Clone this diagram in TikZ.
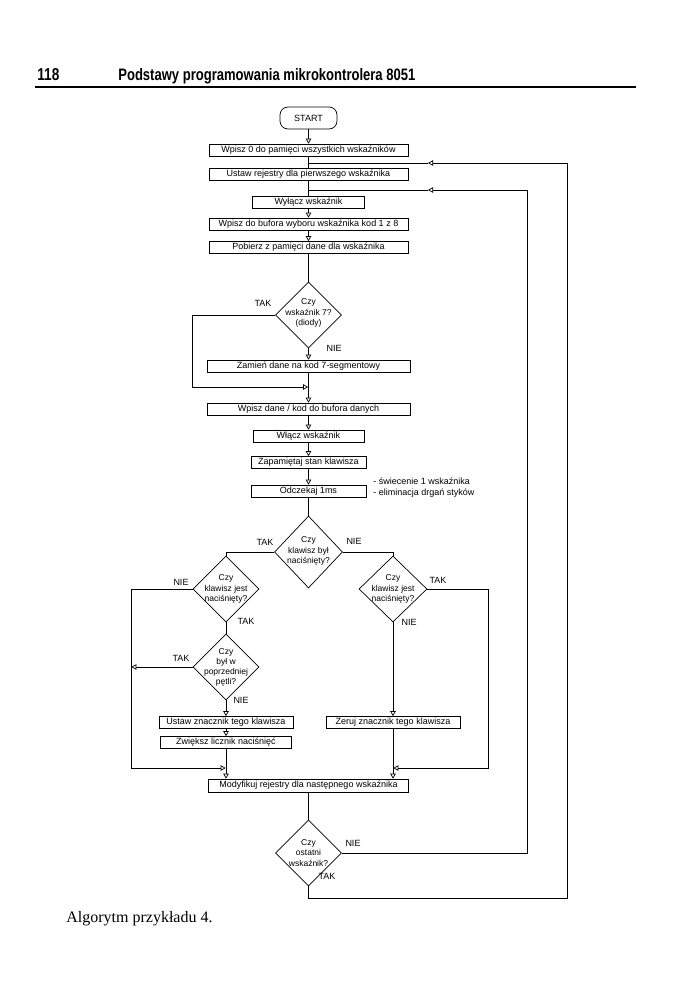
\documentclass[tikz,border=0pt]{standalone}
\usepackage{graphicx}
\usepackage{fontspec}
\setmainfont{Liberation Serif}
\newfontfamily\arial{Liberation Sans}
\usetikzlibrary{arrows.meta,shapes.geometric}
\begin{document}
\begin{tikzpicture}[x=1pt,y=-1pt,
  line width=0.7pt,
  every node/.style={font=\arial\fontsize{9}{10.5}\selectfont},
  box/.style={draw,rectangle,inner sep=0pt,minimum height=12pt},
  term/.style={draw,rounded corners=8pt,minimum width=57pt,minimum height=22pt,inner sep=0pt},
  dia/.style={draw,diamond,inner sep=0pt,minimum width=66pt,minimum height=66pt},
  dtext/.style={align=center,inner sep=0pt,font=\arial\fontsize{8.5}{10.5}\selectfont},
  lbl/.style={inner sep=0pt},
  ar/.style={-{Triangle[open,length=5pt,width=5.5pt]}},
]
\useasboundingbox (0,0) rectangle (677,991);
% header
\node[anchor=base west,inner sep=0pt] (pg) at (37,80) {\resizebox{22pt}{12pt}{\arial\bfseries 118}};
\node[anchor=base west,inner sep=0pt] (ttl) at (118,80) {\resizebox{297pt}{12pt}{\arial\bfseries Podstawy programowania mikrokontrolera 8051}};
\draw[line width=2pt] (35,86.5) -- (636,86.5);
% nodes
\node[term] (start) at (308.5,118) {START};
\node[box,minimum width=199pt] (b1) at (308.5,150) {Wpisz 0 do pamięci wszystkich wskaźników};
\node[box,minimum width=199pt] (b2) at (308.5,174) {Ustaw rejestry dla pierwszego wskaźnika};
\node[box,minimum width=112pt] (b3) at (308.5,202.5) {Wyłącz wskaźnik};
\node[box,minimum width=199pt] (b4) at (308.5,224) {Wpisz do bufora wyboru wskaźnika kod 1 z 8};
\node[box,minimum width=199pt] (b5) at (308.5,247.5) {Pobierz z pamięci dane dla wskaźnika};
\node[dia,label={[dtext,yshift=2pt]center:Czy\\wskaźnik 7?\\(diody)}] (d1) at (308.5,315) {};
\node[box,minimum width=203pt] (b6) at (308.5,366) {Zamień dane na kod 7-segmentowy};
\node[box,minimum width=203pt] (b7) at (308.5,409) {Wpisz dane / kod do bufora danych};
\node[box,minimum width=111pt] (b8) at (308.5,436) {Włącz wskaźnik};
\node[box,minimum width=115pt] (b9) at (308.5,462.5) {Zapamiętaj stan klawisza};
\node[box,minimum width=115pt] (b10) at (308.5,491) {Odczekaj 1ms};
\node[align=left,anchor=west,inner sep=0pt] (note) at (373,487.5) {- świecenie 1 wskaźnika\\- eliminacja drgań styków};
\node[dia,minimum width=68pt,minimum height=72pt,label={[dtext,yshift=1pt]center:Czy\\klawisz był\\naciśnięty?}] (d2) at (308.5,552) {};
\node[dia,label={[dtext]center:Czy\\klawisz jest\\naciśnięty?}] (d3) at (226,589) {};
\node[dia,minimum width=68pt,label={[dtext]center:Czy\\klawisz jest\\naciśnięty?}] (d4) at (393,589) {};
\node[dia,label={[dtext,font=\arial\fontsize{8.5}{10}\selectfont]center:Czy\\był w\\poprzedniej\\pętli?}] (d5) at (226,667) {};
\node[box,minimum width=134pt] (b11) at (226,722.5) {Ustaw znacznik tego klawisza};
\node[box,minimum width=131pt] (b12) at (226,742.5) {Zwiększ licznik naciśnięć};
\node[box,minimum width=134pt] (b14) at (393,722.5) {Zeruj znacznik tego klawisza};
\node[box,minimum width=200pt,minimum height=13pt] (b13) at (308.5,785.5) {Modyfikuj rejestry dla następnego wskaźnika};
\node[dia,label={[dtext]center:Czy\\ostatni\\wskaźnik?}] (d6) at (308.5,853) {};
% labels
\node[lbl] (t1) at (263,303) {TAK};
\node[lbl] (n1) at (334,348) {NIE};
\node[lbl] (t2) at (265,542) {TAK};
\node[lbl] (n2) at (354,541) {NIE};
\node[lbl] (n3) at (181,582) {NIE};
\node[lbl] (t3) at (246,621) {TAK};
\node[lbl] (t4) at (438,580) {TAK};
\node[lbl] (n4) at (409,622) {NIE};
\node[lbl] (t5) at (181,658) {TAK};
\node[lbl] (n5) at (241,700) {NIE};
\node[lbl] (n6) at (353,843) {NIE};
\node[lbl] (t6) at (327,876) {TAK};
% caption
\node[anchor=base west,inner sep=0pt,font=\rmfamily\fontsize{16}{19}\selectfont] (cap) at (66,922) {Algorytm przykładu 4.};
% coordinates
\coordinate (j1) at (308.5,163);
\coordinate (a1) at (428,163);
\coordinate (l1b) at (567,898);
\coordinate (j2) at (308.5,190);
\coordinate (a2) at (428,190);
\coordinate (l2c) at (527,190);
\coordinate (m1) at (308.15,387);
\coordinate (c1) at (192,387);
\coordinate (jl) at (225.65,768);
\coordinate (jr) at (393.35,768);
\coordinate (cl) at (131,768);
\coordinate (cr) at (488,768);
\coordinate (clt) at (131.35,667);
% connectors
\draw[ar] (start.south) -- (b1.north);
\draw (b1.south) -- (b2.north);
\draw (b2.south) -- (b3.north);
\draw[ar] (b3.south) -- (b4.north);
\draw[ar] (b4.south) -- (b5.north);
\draw (b5.south) -- (d1.north);
\draw[ar] (d1.south) -- (b6.north);
\draw[ar] (b6.south) -- (b7.north);
\draw[ar] (d1.west) -| (c1) -- (m1);
\draw[ar] (b7.south) -- (b8.north);
\draw[ar] (b8.south) -- (b9.north);
\draw[ar] (b9.south) -- (b10.north);
\draw (b10.south) -- (d2.north);
\draw (d2.west) -| (d3.north);
\draw (d2.east) -| (d4.north);
\draw (d3.south) -- (d5.north);
\draw[ar] (d5.south) -- (b11.north);
\draw[ar] (b11.south) -- (b12.north);
\draw[ar] (b12.south) -- (b12.south |- b13.north);
\draw[ar] (d4.south) -- (b14.north);
\draw[ar] (b14.south) -- (b14.south |- b13.north);
\draw[ar] (d3.west) -| (cl) -- (jl);
\draw[ar] (d5.west) -- (clt);
\draw[ar] (d4.east) -| (cr) -- (jr);
\draw (b13.south) -- (d6.north);
\draw[ar] (d6.south) |- (l1b) |- (a1);
\draw (a1) -- (j1);
\draw[ar] (d6.east) -| (l2c) -- (a2);
\draw (a2) -- (j2);
\end{tikzpicture}
\end{document}
